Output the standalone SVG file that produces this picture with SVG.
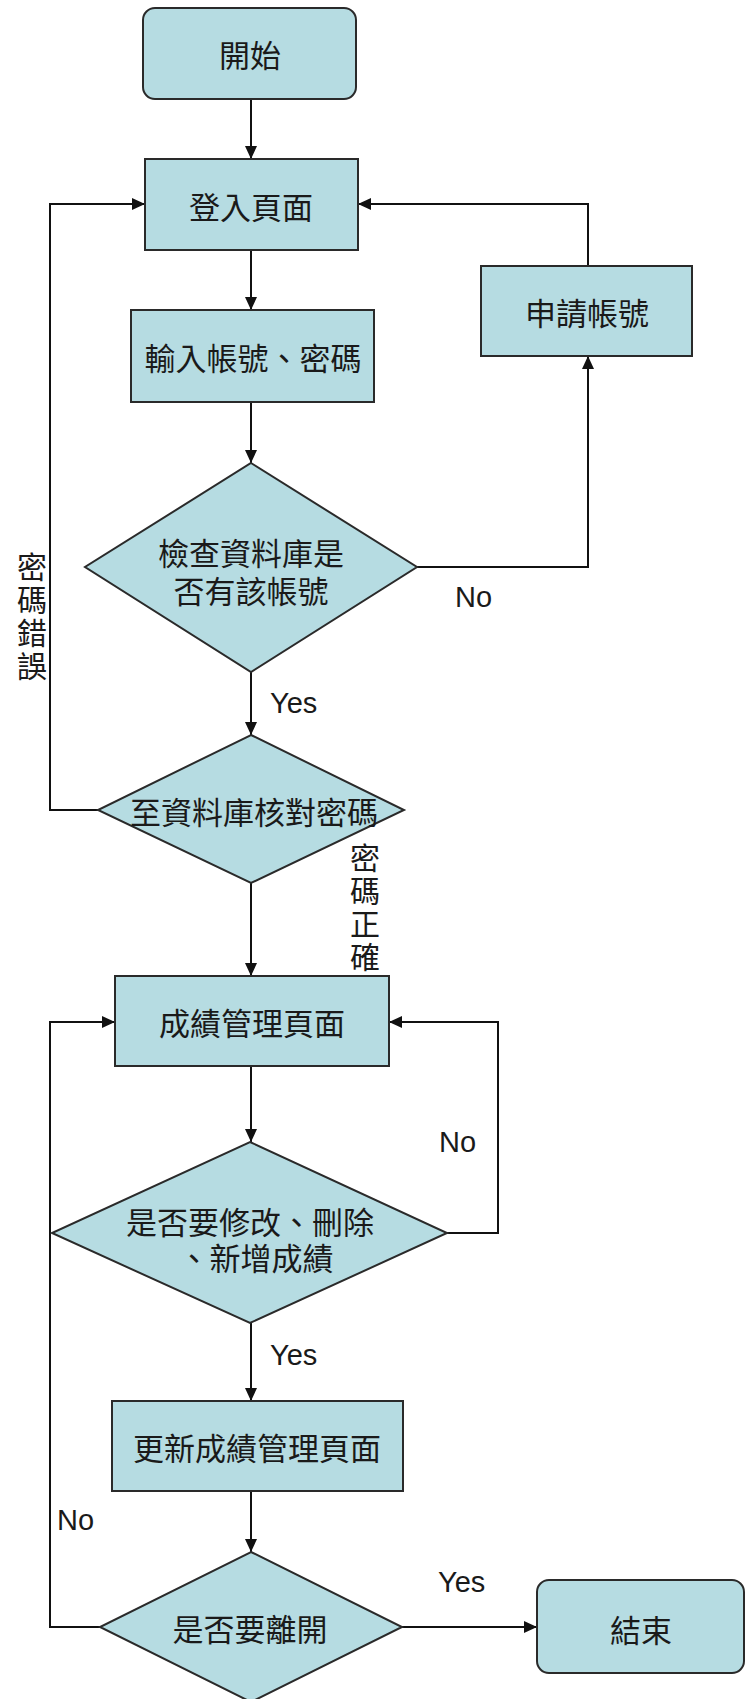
<svg xmlns="http://www.w3.org/2000/svg" width="746" height="1699" viewBox="0 0 746 1699">
<style>
.box{fill:#b6dce2;stroke:#2a2a2a;stroke-width:2}
.ln{fill:none;stroke:#111;stroke-width:2}
.t{font-family:"Noto Sans CJK TC","Noto Sans CJK SC",sans-serif;font-size:31px;fill:#1a1a1a;text-anchor:middle;dominant-baseline:central}
.v{font-family:"Noto Sans CJK TC","Noto Sans CJK SC",sans-serif;font-size:30px;fill:#1a1a1a;writing-mode:vertical-rl;letter-spacing:3px}
.lbl{font-family:"Liberation Sans",Arial,sans-serif;font-size:29px;fill:#1a1a1a}
</style>
<defs>
<marker id="ah" markerUnits="userSpaceOnUse" markerWidth="14" markerHeight="12" refX="13" refY="6" orient="auto">
<path d="M0,0 L13,6 L0,12 z" fill="#111"/>
</marker>
</defs>
<rect width="746" height="1699" fill="#fff"/>
<g id="connectors">
<path class="ln" d="M251,99 V159" marker-end="url(#ah)"/>
<path class="ln" d="M251,250 V310" marker-end="url(#ah)"/>
<path class="ln" d="M251,402 V463" marker-end="url(#ah)"/>
<path class="ln" d="M251,672 V735" marker-end="url(#ah)"/>
<path class="ln" d="M417,567 H588 V356" marker-end="url(#ah)"/>
<path class="ln" d="M588,266 V204 H358" marker-end="url(#ah)"/>
<path class="ln" d="M98,810 H50 V204 H145" marker-end="url(#ah)"/>
<path class="ln" d="M251,883 V976" marker-end="url(#ah)"/>
<path class="ln" d="M251,1066 V1142" marker-end="url(#ah)"/>
<path class="ln" d="M447,1233 H498 V1022 H389" marker-end="url(#ah)"/>
<path class="ln" d="M251,1323 V1401" marker-end="url(#ah)"/>
<path class="ln" d="M251,1491 V1552" marker-end="url(#ah)"/>
<path class="ln" d="M100,1627 H50 V1022 H115" marker-end="url(#ah)"/>
<path class="ln" d="M402,1627 H537" marker-end="url(#ah)"/>
<text class="lbl" x="270" y="713">Yes</text>
<text class="lbl" x="455" y="607">No</text>
<text class="lbl" x="439" y="1152">No</text>
<text class="lbl" x="270" y="1365">Yes</text>
<text class="lbl" x="57" y="1530">No</text>
<text class="lbl" x="438" y="1592">Yes</text>
<text class="v" x="32" y="552">密碼錯誤</text>
<text class="v" x="365" y="843">密碼正確</text>
</g>
<g id="start">
<rect class="box" x="143" y="8" width="213" height="91" rx="12"/>
<text class="t" x="250" y="53">開始</text>
</g>
<g id="login">
<rect class="box" x="145" y="159" width="213" height="91"/>
<text class="t" x="251" y="205">登入頁面</text>
</g>
<g id="apply">
<rect class="box" x="481" y="266" width="211" height="90"/>
<text class="t" x="587" y="311">申請帳號</text>
</g>
<g id="input">
<rect class="box" x="131" y="310" width="243" height="92"/>
<text class="t" x="253" y="356">輸入帳號、密碼</text>
</g>
<g id="check-account">
<polygon class="box" points="251,463 417,567 251,672 85,567"/>
<text class="t" x="251" y="551">檢查資料庫是</text>
<text class="t" x="251" y="589">否有該帳號</text>
</g>
<g id="check-password">
<polygon class="box" points="251,735 404,810 251,883 98,810"/>
<text class="t" x="254" y="810">至資料庫核對密碼</text>
</g>
<g id="grades">
<rect class="box" x="115" y="976" width="274" height="90"/>
<text class="t" x="252" y="1021">成績管理頁面</text>
</g>
<g id="modify">
<polygon class="box" points="250,1142 447,1233 250,1323 52,1233"/>
<text class="t" x="250" y="1220">是否要修改、刪除</text>
<text class="t" x="256" y="1256">、新增成績</text>
</g>
<g id="update">
<rect class="box" x="112" y="1401" width="291" height="90"/>
<text class="t" x="257" y="1446">更新成績管理頁面</text>
</g>
<g id="leave">
<polygon class="box" points="251,1552 402,1627 251,1702 100,1627"/>
<text class="t" x="250" y="1627">是否要離開</text>
</g>
<g id="end">
<rect class="box" x="537" y="1580" width="207" height="93" rx="12"/>
<text class="t" x="641" y="1628">結束</text>
</g>
</svg>
